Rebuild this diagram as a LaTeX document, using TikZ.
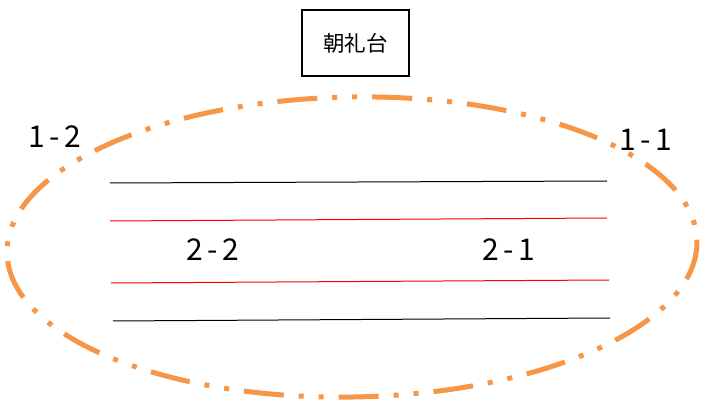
\documentclass[tikz,border=0pt]{standalone}
\usepackage{fontspec}
\newfontfamily\jpfont{Noto Sans CJK JP}
\newfontfamily\numfont[LetterSpace=14]{Noto Sans CJK JP}
\usepackage{tikz}
\usetikzlibrary{positioning}
\definecolor{gridorange}{RGB}{247,150,70}
\tikzstyle{stage} = [rectangle, draw=black, line width=1.6pt, minimum width=107pt, minimum height=66pt, font=\jpfont\fontsize{21.5}{21.5}\selectfont]
\tikzstyle{area} = [font=\numfont\fontsize{30}{30}\selectfont, inner sep=0pt]
\tikzstyle{track} = [line width=5pt, draw=gridorange, dash pattern=on 40pt off 15pt on 5pt off 15pt on 5pt off 15pt]
\tikzstyle{lane} = [line width=1pt]

\begin{document}
\begin{tikzpicture}[x=1pt, y=-1pt]
	\useasboundingbox (0,0) rectangle (702,403);

	\node (stage) [stage] at (355.5,43) {朝礼台};

	\draw [track, rotate around={1:(352,247)}] (352,247) ellipse [x radius=345, y radius=150];

	\node (a12) [area] at (55,137) {1-2};
	\node (a11) [area] at (646,140) {1-1};
	\node (a22) [area] at (213,250) {2-2};
	\node (a21) [area] at (509,250) {2-1};

	\draw [lane, black] (110,183) -- (607,181);
	\draw [lane, red] (110,221) -- (607,218);
	\draw [lane, red] (111,283) -- (609,280);
	\draw [lane, black] (113,321) -- (610,318);
\end{tikzpicture}
\end{document}
